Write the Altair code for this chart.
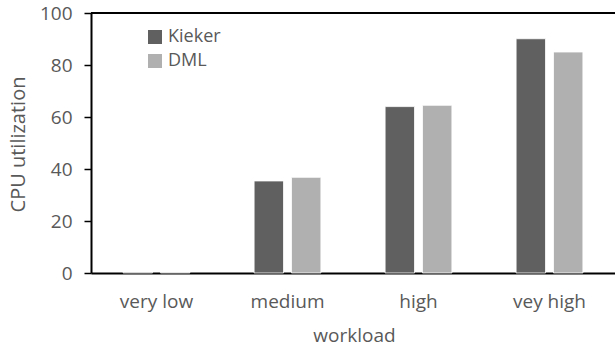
import altair as alt
import pandas as pd

# CPU utilization per workload level for the two monitoring approaches
workloads = ["very low", "medium", "high", "vey high"]
kieker = [0.3, 35.4, 64.0, 90.1]
dml = [0.3, 36.8, 64.5, 85.0]
series = ["Kieker", "DML"]
colors = ["#606060", "#b0b0b0"]

rows = []
for w, k, d in zip(workloads, kieker, dml):
    rows.append({"workload": w, "approach": "Kieker", "cpu": k})
    rows.append({"workload": w, "approach": "DML", "cpu": d})
df = pd.DataFrame(rows)

FONT = "Open Sans"
GREY = "#595959"

bars = alt.Chart(df).mark_bar(stroke="white", strokeWidth=0.8).encode(
    x=alt.X(
        "workload:N",
        sort=workloads,
        scale=alt.Scale(paddingInner=0.49, paddingOuter=0.245),
        axis=alt.Axis(
            title="workload",
            labelAngle=0,
            ticks=False,
            tickSize=0,
            labelPadding=19,
            labelFontSize=19,
            labelColor=GREY,
            titleFontSize=19,
            titleColor=GREY,
            titleFontWeight="normal",
            titleX=263,
            titleY=62,
            titleBaseline="middle",
            domainColor="black",
            domainWidth=2,
        ),
    ),
    xOffset=alt.XOffset(
        "approach:N",
        sort=series,
        scale=alt.Scale(paddingInner=0.213, paddingOuter=0),
    ),
    y=alt.Y(
        "cpu:Q",
        scale=alt.Scale(domain=[0, 100], nice=False),
        axis=alt.Axis(
            title="CPU utilization",
            values=[0, 20, 40, 60, 80, 100],
            grid=False,
            tickSize=7,
            tickColor="black",
            tickWidth=1.5,
            labelPadding=12,
            labelFontSize=19,
            labelColor=GREY,
            titleFontSize=20,
            titleColor=GREY,
            titleFontWeight="normal",
            titleX=-73,
            titleY=131,
            titleBaseline="middle",
            domainColor="black",
            domainWidth=2,
        ),
    ),
    color=alt.Color(
        "approach:N",
        sort=series,
        scale=alt.Scale(domain=series, range=colors),
        legend=alt.Legend(
            title=None,
            orient="none",
            legendX=55,
            legendY=15,
            symbolType="square",
            symbolSize=196,
            symbolStrokeWidth=0,
            labelFontSize=18,
            labelColor=GREY,
            rowPadding=6,
            labelOffset=4,
        ),
    ),
)

# top frame line at the upper end of the value axis
top_line = alt.Chart(pd.DataFrame({"cpu": [100]})).mark_rule(
    color="black", strokeWidth=2
).encode(y="cpu:Q")

chart = (
    alt.layer(bars, top_line)
    .properties(
        width=524,
        height=260,
        autosize=alt.AutoSizeParams(type="none"),
        padding={"left": 91, "top": 13, "right": 0, "bottom": 77},
    )
    .configure(font=FONT)
    .configure_view(stroke=None)
)

chart.save("out.html", embed_options={"renderer": "svg", "actions": False})
